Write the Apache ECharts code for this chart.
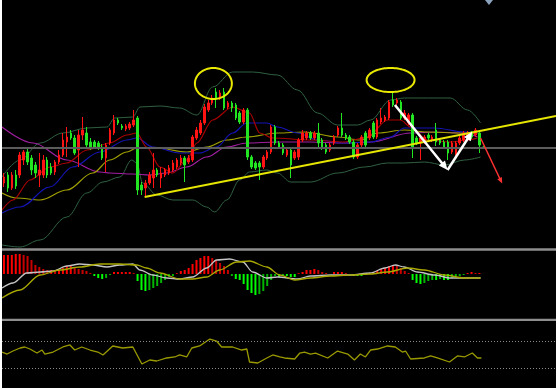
<!DOCTYPE html>
<html><head><meta charset="utf-8">
<script src="https://cdn.jsdelivr.net/npm/echarts/dist/echarts.min.js"></script>
<style>html,body{margin:0;padding:0;background:#fff;width:558px;height:390px;overflow:hidden}
#c{position:absolute;left:2px;top:0;width:554px;height:388px}</style></head>
<body><div id="c"></div>
<script>
// ---- data (price units) ----
const SLOTS = 141; // bar slots on the time axis (candles + empty right margin)
const candles = [ // [open, close, low, high]
[65,71,61,75],[73,60,56,76],[60,73,58,76],[73,62,59,78],[73,93,70,96],
[88,96,83,98],[96,86,83,100],[90,78,73,93],[83,75,70,86],[73,78,61,95],
[73,88,70,93],[88,73,70,91],[81,75,73,85],[76,86,73,88],[86,93,84,98],
[93,108,91,115],[106,111,91,121],[115,110,108,118],[110,95,93,113],[98,113,81,118],
[113,118,108,131],[115,103,100,121],[106,100,98,110],[106,101,99,108],[105,101,98,107],
[101,90,88,104],[90,103,76,105],[105,118,103,120],[115,128,113,133],[128,125,123,130],
[122,120,118,124],[119,122,117,124],[120,124,118,126],[123,128,121,138],[130,58,53,132],
[63,58,53,66],[60,65,51,68],[65,73,63,76],[70,78,60,95],[78,73,71,80],
[70,75,60,81],[73,78,71,80],[75,80,73,83],[78,85,76,88],[81,88,79,90],
[85,90,83,93],[90,83,66,92],[86,90,84,93],[88,111,86,113],[110,118,108,121],
[115,125,113,128],[125,141,123,144],[138,145,136,148],[145,150,143,153],[156,150,140,160],
[150,155,148,158],[156,140,138,160],[141,145,139,147],[145,140,136,147],[143,130,128,145],
[135,126,124,137],[126,138,124,140],[138,91,88,140],[91,81,79,93],[85,80,78,87],
[85,81,68,87],[81,91,79,93],[90,96,88,98],[96,121,94,123],[121,105,103,123],
[105,101,99,107],[103,95,93,105],[93,98,91,100],[98,83,70,100],[90,96,88,98],
[91,108,88,110],[108,115,106,118],[110,115,108,117],[115,110,108,117],[110,115,108,117],
[115,105,101,125],[108,100,98,110],[103,96,94,105],[98,103,96,105],[105,111,103,113],
[113,120,111,122],[120,113,111,135],[113,110,108,115],[111,106,104,113],[106,91,89,108],
[91,103,89,105],[103,111,101,113],[115,103,101,117],[110,118,108,120],[125,111,109,127],
[111,128,109,130],[126,130,124,140],[128,131,126,133],[130,146,128,148],[148,143,141,155],
[145,148,143,150],[146,130,128,148],[130,135,128,138],[125,133,123,135],[133,101,90,135],
[110,105,103,112],[105,110,88,112],[106,111,104,113],[113,110,108,115],[108,111,106,113],
[118,106,102,125],[108,105,103,110],[106,101,99,108],[106,95,88,108],[96,105,94,107],
[93,105,91,107],[105,110,103,112],[108,115,106,117],[110,115,108,117],[115,111,109,117],
[113,118,111,120],[115,103,95,118],[101,100,99,102]
];
const maMagenta = [[-0.5,121],[7.4,105],[16,88],[24.4,76],[26.9,75],[32.8,74],[37.1,73],[41.4,75],[46.5,81],[51.6,91],[56.7,101],[61.8,105],[69.6,106],[78,106],[86.7,105],[93.3,106],[103.5,115],[109.6,116],[117.2,115],[120.5,111]];
const maOlive = [[-0.5,55],[3.3,50],[9.2,48],[16,58],[22.6,75],[26.9,88],[31.3,96],[33.8,100],[38.9,100],[46.5,96],[51.6,101],[56.7,108],[61.8,111],[69.6,115],[76.5,116],[84.9,111],[90.7,108],[95.1,115],[101.9,118],[107.8,116],[116.2,115],[120.5,115]];
const maBlue = [[-0.5,35],[4.1,41],[11.7,61],[17.5,81],[24.4,96],[31.3,108],[33.8,110],[37.9,101],[44.7,95],[49.8,95],[54.1,101],[58.2,115],[61.8,125],[66.9,125],[69.6,121],[74.7,115],[79.8,108],[86.7,105],[93.3,106],[98.4,111],[101.9,120],[109.6,120],[117.2,116],[120.5,115]];
const maRed = [[-0.5,38],[2.3,48],[6.6,68],[11.7,81],[16,85],[21.1,98],[26.9,105],[31.3,113],[33.8,115],[36.3,101],[39.7,81],[43,75],[46.5,88],[49.1,105],[53.1,128],[58.2,141],[62.5,135],[65.1,115],[68.4,110],[78,108],[86.7,106],[92.5,111],[97.6,128],[100.9,128],[103.5,121],[107.8,108],[113.6,106],[118,108],[120.5,110]];
const bbUpper = [[-0.5,71],[4.1,88],[9.2,105],[15,115],[21.1,120],[26.2,121],[28.2,130],[32.8,131],[34.6,141],[39.7,142],[44.7,140],[49.1,133],[53.1,161],[58.2,176],[63.3,176],[69.6,173],[74.7,158],[79.8,135],[84.9,123],[90,123],[93.3,128],[98.4,148],[101.9,150],[107.8,150],[113.6,150],[118,138],[121.3,125]];
const bbLower = [[-0.5,3],[4.1,1],[9.2,8],[16,31],[21.1,55],[25.2,66],[29.5,71],[32.5,88],[33.8,85],[35.3,65],[38.9,53],[43,48],[48,48],[51.6,41],[53.6,36],[56.7,48],[60,68],[62.5,76],[66.9,78],[69.6,75],[73,66],[78,66],[84.9,75],[91.8,81],[97.6,85],[101.9,85],[107,86],[112.1,83],[117.2,88],[121.3,91]];
const priceLevel = 100.5;
const trendLine = [[35.8,51],[140.5,132]];
const ellipses = [[53.3,164.5,4.7,15.5],[98.4,168,6.1,12]]; // [cx, cy, rx, ry]
const whiteArrows = [[99.5,143,112.9,78],[112.9,78,119.2,116.5]];
const redArrows = [[121.3,110,126.8,64.5]];

const macdHist = [19,19,19,20,20,19,18,14,9,7,5,4,4,3,4,6,8,8,6,5,4,3,1,
-2,-4,-5,-4,-1, 2,2,2,2,2,1,
-7,-16,-17,-16,-14,-12,-9,-6,-3,-2,
1,3,4,6,10,14,16,18,18,16,14,11,8,4,
-2,-5,-6,-10,-16,-19,-21,-20,-17,-12,-6,
-2,-3,-2,-2,-3,-3, 1,2,4,4,5,4,2,1, 0, 2,2,2,1,0, -2,-2,-2,-1,
1,2,3,5,6,8,9,8,6,3,1,
-6,-9,-10,-9,-7,-6,-6,-5,-6,-6,-4,-3,-2,-1,
1,2,1,1,0];
const macdMain = [[-0.5,-14],[2.3,-9],[5.8,1],[9.2,2],[12.5,3],[16,8],[19.3,10],[22.6,9],[26.2,7],[29.5,9],[32.8,10],[34.6,4],[37.9,-1],[41.4,-4],[44.7,-5],[48,-3],[51.6,6],[54.1,14],[57.4,15],[60.8,12],[63.3,2],[66.9,-4],[69.6,-3],[74.7,-5],[78,-2],[83.1,-1],[88.2,-1],[93.3,1],[96.9,6],[99.6,9],[101.9,7],[105.2,2],[109.6,-1],[113.6,-4],[117.2,-4],[121.3,-4]];
const macdSignal = [[-0.5,-24],[4.1,-16],[9.2,-1],[14.2,4],[19.3,7],[24.4,10],[29.5,10],[33.8,9],[36.3,6],[39.7,1],[44.7,-5],[48,-5],[51.6,-3],[54.9,4],[59.2,12],[62.5,13],[66.9,7],[70.2,-1],[74,-6],[78,-4],[83.1,-2],[88.2,-1],[93.3,0],[97.6,2],[102.7,6],[107,4],[112.1,-1],[117.2,-4],[121.3,-4]];

const rsi = [[-0.5,53.7],[0.8,50.7],[2.3,55.2],[4.1,59.7],[5.3,61.2],[6.6,58.2],[8.4,52.2],[9.7,56.7],[10.4,50.7],[12.5,53.7],[15,61.2],[16.8,64.2],[18,56.7],[19.8,61.2],[21.9,56.7],[23.9,53.7],[25.2,49.3],[27.7,62.7],[30.2,59.7],[32.8,61.2],[35.1,35.8],[37.1,41.8],[38.9,40.3],[41.4,44.8],[43.5,46.3],[44.7,49.3],[46.5,46.3],[47.8,59.7],[49.8,62.7],[52.4,73.1],[54.1,70.1],[55.4,61.2],[58.2,61.2],[60.5,56.7],[61.8,58.2],[62.5,38.8],[64.6,37.3],[66.9,44.8],[68.4,49.3],[70.2,46.3],[71.4,44.8],[74,43.3],[75.3,52.2],[76.5,53.7],[78,50.7],[79.3,52.2],[82.4,44.8],[84.9,55.2],[87.5,50.7],[89.2,41.8],[90.7,50.7],[92,46.3],[93.3,56.7],[95.1,58.2],[97.6,62.7],[99.6,61.2],[101.4,53.7],[102.2,55.2],[103.5,43.3],[107,44.8],[108.6,47.8],[110.3,44.8],[113.4,38.8],[115.4,47.8],[117.2,46.3],[119.2,52.2],[120.5,44.8],[121.5,44.8]];
const rsiLevels = [70, 30];

// ---- chart ----
const slots = Array.from({length: SLOTS}, (_, i) => String(i + 1));
const chart = echarts.init(document.getElementById('c'));

const histData = macdHist.map((v, i) => {
  const p = i > 0 ? macdHist[i - 1] : v;
  const growing = Math.abs(v) >= Math.abs(p);
  const col = v >= 0 ? (growing ? '#ff0000' : '#c80000') : (growing ? '#00ff00' : '#00b400');
  return {value: v, itemStyle: {color: col}};
});

function lineS(data, color, xi, yi, w, smooth, z) {
  return {type: 'line', data: data, xAxisIndex: xi, yAxisIndex: yi, symbol: 'none',
    smooth: smooth, smoothMonotone: 'x', silent: true, z: z || 2,
    lineStyle: {color: color, width: w}, animation: false};
}

function ellipseItem(params, api) {
  const c = api.coord([api.value(0), api.value(1)]);
  const s = api.size([api.value(2), api.value(3)]);
  const pts = [];
  for (let k = 0; k < 90; k++) {
    const a = k / 90 * Math.PI * 2;
    pts.push([c[0] + s[0] * Math.cos(a), c[1] + s[1] * Math.sin(a)]);
  }
  return {type: 'polygon', shape: {points: pts}, style: {fill: null, stroke: '#eaea00', lineWidth: 2}};
}
function arrowItem(color, lw, hl, hw) {
  return function (params, api) {
    const p0 = api.coord([api.value(0), api.value(1)]);
    const p1 = api.coord([api.value(2), api.value(3)]);
    const dx = p1[0] - p0[0], dy = p1[1] - p0[1], L = Math.hypot(dx, dy);
    const ux = dx / L, uy = dy / L;
    const bx = p1[0] - ux * hl, by = p1[1] - uy * hl;
    return {type: 'group', children: [
      {type: 'line', shape: {x1: p0[0], y1: p0[1], x2: bx + ux, y2: by + uy}, style: {stroke: color, lineWidth: lw}},
      {type: 'polygon', shape: {points: [[p1[0], p1[1]], [bx - uy * hw, by + ux * hw], [bx + uy * hw, by - ux * hw]]}, style: {fill: color}}
    ]};
  };
}

const option = {
  backgroundColor: '#000',
  animation: false,
  grid: [
    {left: 0, right: 0, top: 0, height: 248},
    {left: 0, right: 0, top: 251, height: 68},
    {left: 0, right: 0, top: 321, height: 67}
  ],
  xAxis: [
    {type: 'category', gridIndex: 0, data: slots, show: false},
    {type: 'value', gridIndex: 0, min: -0.5, max: SLOTS - 0.5, show: false},
    {type: 'category', gridIndex: 1, data: slots, show: false},
    {type: 'value', gridIndex: 1, min: -0.5, max: SLOTS - 0.5, show: false},
    {type: 'value', gridIndex: 2, min: -0.5, max: SLOTS - 0.5, show: false}
  ],
  yAxis: [
    {type: 'value', gridIndex: 0, min: 0, max: 248, show: false},
    {type: 'value', gridIndex: 1, min: -45, max: 23, show: false},
    {type: 'value', gridIndex: 2, min: 0, max: 100, show: false}
  ],
  series: [
    lineS(bbUpper, '#2f6040', 1, 0, 1, 0.35),
    lineS(bbLower, '#2f6040', 1, 0, 1, 0.35),
    lineS(maMagenta, '#a01ea0', 1, 0, 1.2, 0.35),
    lineS(maOlive, '#a0a000', 1, 0, 1.2, 0.35),
    lineS(maBlue, '#1414b4', 1, 0, 1.2, 0.35),
    lineS(maRed, '#a80000', 1, 0, 1.2, 0.3),
    {
      type: 'candlestick', xAxisIndex: 0, yAxisIndex: 0, data: candles, barWidth: 2, z: 3, silent: true,
      itemStyle: {color: '#ff1414', color0: '#22e622', borderColor: '#ff1414', borderColor0: '#22e622', borderColorDoji: '#ff1414', borderWidth: 1},
      markLine: {silent: true, symbol: 'none', label: {show: false}, animation: false,
        lineStyle: {color: '#5c5c5c', width: 2, type: 'solid'}, data: [{yAxis: priceLevel}]}
    },
    lineS(trendLine, '#e6e600', 1, 0, 1.8, false, 5),
    {type: 'custom', xAxisIndex: 1, yAxisIndex: 0, data: ellipses, renderItem: ellipseItem, z: 6, silent: true, encode: {x: 0, y: 1}},
    {type: 'custom', xAxisIndex: 1, yAxisIndex: 0, data: whiteArrows, renderItem: arrowItem('#ffffff', 2.5, 9, 4), z: 6, silent: true, encode: {x: [0, 2], y: [1, 3]}},
    {type: 'custom', xAxisIndex: 1, yAxisIndex: 0, data: redArrows, renderItem: arrowItem('#ff3030', 1.5, 6, 2.5), z: 6, silent: true, encode: {x: [0, 2], y: [1, 3]}},

    {type: 'bar', xAxisIndex: 2, yAxisIndex: 1, data: histData, barWidth: 2, silent: true, z: 2},
    lineS(macdMain, '#c4c4c4', 3, 1, 1.3, 0.3, 3),
    lineS(macdSignal, '#a8a800', 3, 1, 1.3, 0.3, 3),

    Object.assign(lineS(rsi, '#9a9a00', 4, 2, 1.3, false, 3), {
      markLine: {silent: true, symbol: 'none', label: {show: false}, animation: false,
        lineStyle: {color: '#8a8a8a', width: 1, type: [1, 2]},
        data: rsiLevels.map(v => ({yAxis: v}))}
    })
  ],
  graphic: [
    {type: 'rect', shape: {x: 0, y: 248.3, width: 554, height: 2.5}, style: {fill: '#8e8e8e'}, silent: true, z: 10},
    {type: 'rect', shape: {x: 0, y: 318.7, width: 554, height: 2.4}, style: {fill: '#8e8e8e'}, silent: true, z: 10},
    {type: 'polygon', shape: {points: [[483, 0], [491, 0], [487, 5]]}, style: {fill: '#8aa2bc'}, silent: true, z: 10}
  ]
};
chart.setOption(option);
</script>
</body></html>
